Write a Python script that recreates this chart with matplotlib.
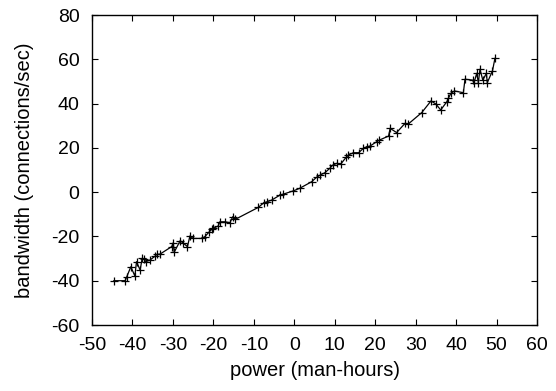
import matplotlib
matplotlib.use("Agg")
import matplotlib.pyplot as plt

power = [-44.6, -41.8, -41.4, -40.4, -39.4, -39.0, -38.1, -37.6, -37.1, -36.7,
         -35.7, -34.4, -34.0, -33.2, -30.3, -29.9, -29.7, -28.2, -27.4, -26.4,
         -25.8, -25.0, -22.9, -22.1, -21.0, -20.4, -20.0, -18.8, -18.4, -17.1,
         -15.9, -15.2, -14.6, -8.9, -7.6, -6.7, -5.6, -3.5, -2.7, -0.2,
         1.3, 4.3, 5.5, 6.4, 7.6, 8.8, 9.5, 10.5, 11.5, 12.8,
         13.4, 14.6, 15.9, 17.1, 17.9, 18.7, 20.4, 21.0, 23.3, 23.7,
         25.3, 27.4, 28.2, 31.5, 33.8, 35.0, 36.2, 37.7, 38.1, 38.7,
         39.6, 41.8, 42.2, 44.1, 44.4, 45.1, 45.5, 45.9, 46.6, 47.5,
         47.7, 49.0, 49.6]
bandwidth = [-40.0, -40.0, -38.2, -33.7, -37.9, -31.4, -35.2, -29.9, -30.3, -31.4,
             -30.7, -28.9, -28.1, -28.0, -24.6, -22.8, -27.2, -21.9, -23.1, -24.6,
             -19.8, -20.9, -20.9, -20.1, -17.9, -16.8, -16.3, -15.3, -13.4, -13.4,
             -13.8, -11.1, -12.3, -6.9, -4.9, -4.3, -3.6, -1.3, -0.9, 0.6,
             1.7, 4.7, 6.7, 7.7, 8.8, 10.8, 12.2, 13.0, 12.7, 15.7,
             16.8, 17.8, 17.8, 19.8, 20.5, 20.8, 22.8, 23.5, 25.3, 28.8,
             26.9, 31.1, 30.8, 35.9, 41.2, 39.8, 37.1, 40.8, 42.4, 44.6,
             45.7, 44.9, 51.0, 50.6, 49.2, 53.7, 49.4, 55.5, 50.6, 53.7,
             49.4, 54.8, 60.4]

xticks = list(range(-50, 61, 10))
yticks = list(range(-60, 81, 20))

plt.rcParams['font.family'] = ['Liberation Sans', 'DejaVu Sans']
plt.rcParams['axes.unicode_minus'] = False
fig = plt.figure(figsize=(5.56, 3.91), dpi=100)
ax = fig.add_axes([92/556, 1-325/391, (537-92)/556, (325-15)/391])
ax.plot(power, bandwidth, color='black', linewidth=0.9, marker='+',
        markersize=5.5, markeredgewidth=0.9)
ax.set_xlim(-50, 60)
ax.set_ylim(-60, 80)
ax.set_xticks(xticks)
ax.set_yticks(yticks)
ax.tick_params(direction='in', length=4, width=0.8, labelsize=14,
               top=True, right=True)
ax.tick_params(axis='x', pad=9)
ax.tick_params(axis='y', pad=9)
for s in ax.spines.values():
    s.set_linewidth(1.0)
ax.set_xlabel('power (man-hours)', fontsize=14.5, labelpad=5)
ax.set_ylabel('bandwidth (connections/sec)', fontsize=14.5, labelpad=12)
fig.savefig('out.png', dpi=100)
